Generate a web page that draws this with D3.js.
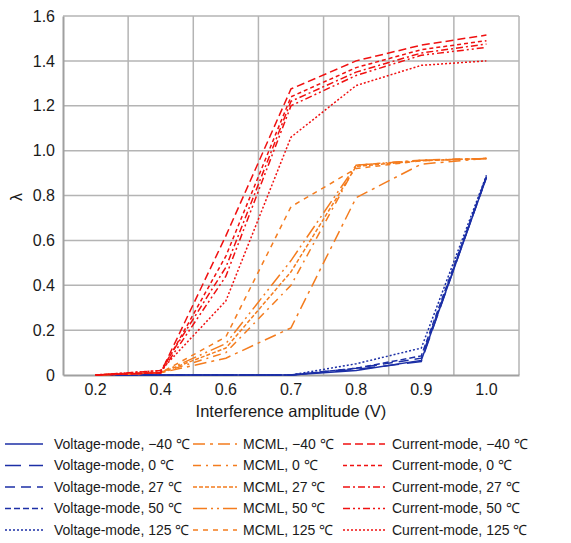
<!DOCTYPE html>
<html><head><meta charset="utf-8">
<script src="https://cdn.jsdelivr.net/npm/d3@7"></script>
<style>body{margin:0;background:#fff}svg{display:block;font-family:"Liberation Sans",Arial,sans-serif}</style>
</head><body>
<svg id="c" width="571" height="543"></svg>
<script>
const categories = ["0.2","0.4","0.6","0.7","0.8","0.9","1.0"];
const yTicks = [0,0.2,0.4,0.6,0.8,1.0,1.2,1.4,1.6];

const vm_m40 = [0,0,0,0,0.02,0.065,0.88];
const vm_0   = [0,0,0,0,0.025,0.06,0.885];
const vm_27  = [0,0,0,0,0.03,0.075,0.88];
const vm_50  = [0,0,0,0,0.03,0.085,0.885];
const vm_125 = [0,0,0,0,0.05,0.12,0.89];

const mc_m40 = [0,0.01,0.075,0.21,0.79,0.94,0.965];
const mc_0   = [0,0.01,0.10,0.40,0.935,0.958,0.965];
const mc_27  = [0,0.01,0.12,0.46,0.93,0.955,0.965];
const mc_50  = [0,0.01,0.14,0.51,0.935,0.957,0.965];
const mc_125 = [0,0.01,0.17,0.75,0.92,0.955,0.965];

const cm_m40 = [0,0.01,0.62,1.275,1.40,1.47,1.515];
const cm_0   = [0,0.01,0.53,1.24,1.37,1.45,1.49];
const cm_27  = [0,0.02,0.48,1.22,1.35,1.435,1.475];
const cm_50  = [0,0.01,0.44,1.20,1.335,1.425,1.46];
const cm_125 = [0,0.02,0.33,1.06,1.29,1.38,1.40];

const seriesNames = [
 "Voltage-mode, \u221240 \u2103","Voltage-mode, 0 \u2103","Voltage-mode, 27 \u2103","Voltage-mode, 50 \u2103","Voltage-mode, 125 \u2103",
 "MCML, \u221240 \u2103","MCML, 0 \u2103","MCML, 27 \u2103","MCML, 50 \u2103","MCML, 125 \u2103",
 "Current-mode, \u221240 \u2103","Current-mode, 0 \u2103","Current-mode, 27 \u2103","Current-mode, 50 \u2103","Current-mode, 125 \u2103"];
const seriesValues = [vm_m40,vm_0,vm_27,vm_50,vm_125,mc_m40,mc_0,mc_27,mc_50,mc_125,cm_m40,cm_0,cm_27,cm_50,cm_125];

const BLUE="#1c2fa6", ORANGE="#f47c1e", RED="#f01010";
const colors=[BLUE,BLUE,BLUE,BLUE,BLUE,ORANGE,ORANGE,ORANGE,ORANGE,ORANGE,RED,RED,RED,RED,RED];
const dashes=["","16,8","10,6","6,3","2,2",
 "12,5,3,5","8,5,2,5","4,2","14,4,2,4,2,4","5,5",
 "8,4","4,3","7,3,2,3","7,3,2,3,2,3","2,2"];

const svg=d3.select("#c");
const L=63,R=519,T=16,B=375;
const x=d3.scaleBand().domain(categories).range([L,R]).paddingInner(0).paddingOuter(0);
const y=d3.scaleLinear().domain([0,1.6]).range([B,T]);
const cx=c=>x(c)+x.bandwidth()/2;
const GRID="#b4b4b4";

// horizontal grid
svg.append("g").selectAll("line").data(yTicks.slice(1)).join("line")
 .attr("x1",L).attr("x2",R).attr("y1",d=>y(d)).attr("y2",d=>y(d))
 .attr("stroke",GRID).attr("stroke-width",1.5);
// vertical grid at band boundaries
const bounds=categories.map(c=>x(c)).slice(1).concat([R]);
svg.append("g").selectAll("line").data(bounds).join("line")
 .attr("x1",d=>d).attr("x2",d=>d).attr("y1",T).attr("y2",B)
 .attr("stroke",GRID).attr("stroke-width",1.5);

// axes
const xAxis=d3.axisBottom(x).tickSize(0).tickPadding(9);
const gx=svg.append("g").attr("transform",`translate(0,${B})`).call(xAxis);
gx.select(".domain").attr("stroke","#a0a0a0").attr("stroke-width",2);
gx.selectAll("text").attr("font-size",16).attr("fill","#1a1a1a").attr("font-family","Liberation Sans, Arial, sans-serif");
const yAxis=d3.axisLeft(y).tickValues(yTicks).tickSize(0).tickPadding(8).tickFormat(d=>d===0?"0":d3.format(".1f")(d));
const gy=svg.append("g").attr("transform",`translate(${L},0)`).call(yAxis);
gy.select(".domain").attr("stroke","#a0a0a0").attr("stroke-width",2);
gy.selectAll("text").attr("font-size",16).attr("fill","#1a1a1a").attr("font-family","Liberation Sans, Arial, sans-serif");

// titles
svg.append("text").attr("x",(L+R)/2).attr("y",417).attr("text-anchor","middle")
 .attr("font-size",16.5).attr("fill","#1a1a1a").text("Interference amplitude (V)");
svg.append("text").attr("transform","translate(22,197) rotate(-90)").attr("text-anchor","middle")
 .attr("font-size",16).attr("fill","#1a1a1a").text("\u03bb");

// lines
const line=d3.line().x((d,i)=>cx(categories[i])).y(d=>y(d));
const gl=svg.append("g");
// draw order: blue, orange, red
seriesValues.forEach((vals,k)=>{
  gl.append("path").datum(vals).attr("d",line).attr("fill","none")
   .attr("stroke",colors[k]).attr("stroke-width",1.5)
   .attr("stroke-dasharray",dashes[k]||null);
});

// legend
const colX=[5,193,343], lineLen=[38,44,42], textX=[54,243,392];
const rowY=[444,465.5,487,508.5,530];
const lg=svg.append("g");
seriesNames.forEach((name,k)=>{
  const col=Math.floor(k/5), row=k%5;
  lg.append("line").attr("x1",colX[col]).attr("x2",colX[col]+lineLen[col])
    .attr("y1",rowY[row]).attr("y2",rowY[row]).attr("stroke",colors[k]).attr("stroke-width",1.5)
    .attr("stroke-dasharray",dashes[k]||null);
  lg.append("text").attr("x",textX[col]).attr("y",rowY[row]).attr("dy","0.35em")
    .attr("font-size",14).attr("fill","#1a1a1a").text(name);
});
</script>
</body></html>
